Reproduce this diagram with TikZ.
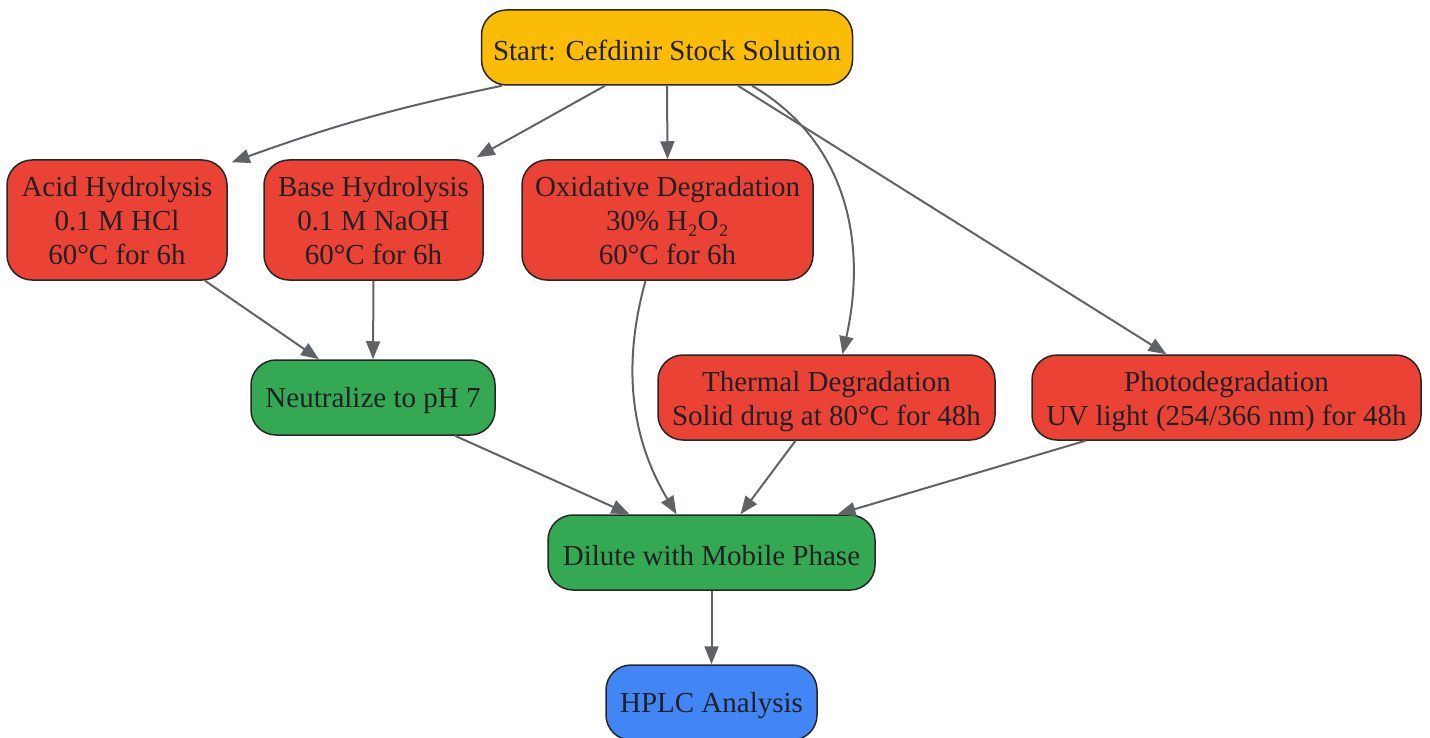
\documentclass[tikz,border=0pt]{standalone}
\usepackage{fontspec}
\setmainfont{Liberation Serif}
\usetikzlibrary{arrows.meta,calc}
\definecolor{startyellow}{HTML}{FBBC05}
\definecolor{stressred}{HTML}{EA4335}
\definecolor{prepgreen}{HTML}{34A853}
\definecolor{hplcblue}{HTML}{4285F4}
\definecolor{arrowgray}{HTML}{5F6368}
\definecolor{textgray}{HTML}{202124}
\newcommand{\topgap}[1]{\rule{0pt}{#1}}
\begin{document}
\begin{tikzpicture}
      [x=0.5pt,y=-0.5pt,
       box/.style={draw=black!85,line width=0.75pt,rounded corners=12.5pt,
         align=center,text=textgray,inner sep=0pt,
         font=\fontsize{14.5}{17}\selectfont},
       flow/.style={draw=arrowgray,line width=1pt,
         -{Triangle[length=9pt,width=7pt]}}]
      \useasboundingbox (0,0) rectangle (1430,738);
      \node[box,fill=startyellow,minimum width=185.5pt,minimum height=37.5pt]
        (start) at (667,47.5) {\topgap{13.5pt}Start: Cefdinir Stock Solution};
      \node[box,fill=stressred,minimum width=110pt,minimum height=60pt]
        (acid) at (117,220) {\topgap{11pt}Acid Hydrolysis\\0.1 M HCl\\60°C for 6h};
      \node[box,fill=stressred,minimum width=109.5pt,minimum height=60pt]
        (base) at (373.5,220) {\topgap{11pt}Base Hydrolysis\\0.1 M NaOH\\60°C for 6h};
      \node[box,fill=stressred,minimum width=145.5pt,minimum height=60pt]
        (oxid) at (667.5,220) {\topgap{11pt}Oxidative Degradation\\30\% H₂O₂\\60°C for 6h};
      \node[box,fill=prepgreen,minimum width=122pt,minimum height=37.5pt]
        (neutral) at (373,397.5) {\topgap{13.5pt}Neutralize to pH 7};
      \node[box,fill=stressred,minimum width=168.5pt,minimum height=42.5pt]
        (thermal) at (826.5,397.5) {\topgap{14pt}Thermal Degradation\\Solid drug at 80°C for 48h};
      \node[box,fill=stressred,minimum width=194.5pt,minimum height=42.5pt]
        (photo) at (1226.5,397.5) {\topgap{14pt}Photodegradation\\UV light (254/366 nm) for 48h};
      \node[box,fill=prepgreen,minimum width=163.5pt,minimum height=37.5pt]
        (dilute) at (711.5,552.5) {\topgap{13.5pt}Dilute with Mobile Phase};
      \node[box,fill=hplcblue,minimum width=105.5pt,minimum height=37.5pt]
        (hplc) at (711.5,702.5) {\topgap{13.5pt}HPLC Analysis};
      \draw[flow] ($(start.south)+(-165,0)$) to[bend right=4] ($(acid.north east)+(4,3)$);
      \draw[flow] ($(start.south)+(-62,0)$) -- ($(base.north east)+(-7,-2)$);
      \draw[flow] (start.south) -- (oxid.north);
      \draw[flow] ($(start.south)+(85,0)$) .. controls (845,140) and (868,240)
        .. ($(thermal.north)+(16,0)$);
      \draw[flow] ($(start.south)+(71,0)$) -- ($(photo.north)+(-60,0)$);
      \draw[flow] ($(acid.south)+(88,0)$) -- ($(neutral.north)+(-54,0)$);
      \draw[flow] (base.south) -- (neutral.north);
      \draw[flow] ($(oxid.south)+(-22,0)$) .. controls (618,380) and (638,450)
        .. ($(dilute.north)+(-35,0)$);
      \draw[flow] ($(neutral.south)+(82,0)$) -- ($(dilute.north)+(-82,0)$);
      \draw[flow] ($(thermal.south)+(-31,0)$) -- ($(dilute.north)+(29,0)$);
      \draw[flow] ($(photo.south)+(-141,0)$) -- ($(dilute.north)+(126,0)$);
      \draw[flow] (dilute.south) -- (hplc.north);
    \end{tikzpicture}
\end{document}
